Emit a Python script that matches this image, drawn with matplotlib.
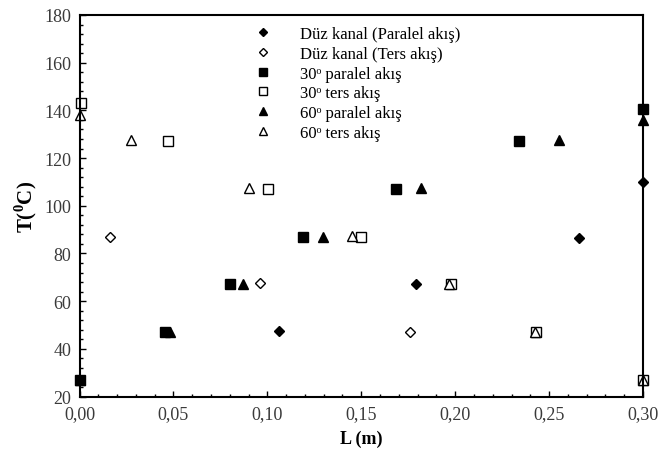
import matplotlib
matplotlib.use("Agg")
import matplotlib.pyplot as plt
from matplotlib.ticker import MultipleLocator, FuncFormatter

plt.rcParams['font.family'] = ['Liberation Serif', 'DejaVu Serif']
plt.rcParams['mathtext.fontset'] = 'custom'
plt.rcParams['mathtext.rm'] = 'Liberation Serif'
plt.rcParams['mathtext.bf'] = 'Liberation Serif:bold'

# Data
duz_par_x = [0.0, 0.106, 0.179, 0.266, 0.300]
duz_par_y = [27, 47.5, 67, 86.5, 110]
duz_ters_x = [0.016, 0.096, 0.176, 0.300]
duz_ters_y = [87, 67.5, 47, 27]
p30_par_x = [0.0, 0.0455, 0.080, 0.119, 0.1685, 0.234, 0.300]
p30_par_y = [27, 47, 67, 87, 107, 127, 140.5]
p30_ters_x = [0.0006, 0.047, 0.1005, 0.150, 0.198, 0.243, 0.300]
p30_ters_y = [143, 127, 107, 87, 67, 47, 27]
p60_par_x = [0.0, 0.048, 0.087, 0.1295, 0.182, 0.2555, 0.300]
p60_par_y = [27, 47, 67, 87, 107.5, 127.5, 136]
p60_ters_x = [0.0003, 0.0274, 0.090, 0.145, 0.1965, 0.2425, 0.300]
p60_ters_y = [138, 127.5, 107.5, 87.5, 67, 47, 27]

labels = ["Düz kanal (Paralel akış)", "Düz kanal (Ters akış)",
          "30ᵒ paralel akış", "30ᵒ ters akış",
          "60ᵒ paralel akış", "60ᵒ ters akış"]

fig = plt.figure(figsize=(6.6, 4.56), dpi=100)
ax = fig.add_axes([79.5/660, (456-397.5)/456, 563.5/660, 381.5/456])

kw = dict(linestyle='none', clip_on=False, markeredgecolor='black', markeredgewidth=1.0)
h1, = ax.plot(duz_par_x, duz_par_y, marker='D', markersize=5.5, markerfacecolor='black', label=labels[0], **kw)
h2, = ax.plot(duz_ters_x, duz_ters_y, marker='D', markersize=5.5, markerfacecolor='white', label=labels[1], **kw)
h3, = ax.plot(p30_par_x, p30_par_y, marker='s', markersize=7, markerfacecolor='black', label=labels[2], **kw)
h4, = ax.plot(p30_ters_x, p30_ters_y, marker='s', markersize=7, markerfacecolor='white', label=labels[3], **kw)
h5, = ax.plot(p60_par_x, p60_par_y, marker='^', markersize=7.5, markerfacecolor='black', label=labels[4], **kw)
h6, = ax.plot(p60_ters_x, p60_ters_y, marker='^', markersize=7.5, markerfacecolor='white', label=labels[5], **kw)

ax.set_xlim(0, 0.30)
ax.set_ylim(20, 180)
ax.xaxis.set_major_locator(MultipleLocator(0.05))
ax.xaxis.set_minor_locator(MultipleLocator(0.01))
ax.yaxis.set_major_locator(MultipleLocator(20))
ax.yaxis.set_minor_locator(MultipleLocator(4))
ax.xaxis.set_major_formatter(FuncFormatter(lambda v, p: f"{v:.2f}".replace('.', ',')))
ax.tick_params(which='both', direction='in', top=False, right=False, colors='black',
               labelcolor='#3a3a3a', labelsize=13, width=1.0)
ax.tick_params(which='major', length=4, pad=6)
ax.tick_params(which='minor', length=2.5)
for s in ax.spines.values():
    s.set_linewidth(1.5)

ax.set_xlabel("L (m)", fontsize=13, fontweight='bold', labelpad=6)
ax.set_ylabel("T($^{\\mathbf{0}}$C)", fontsize=15, fontweight='bold', labelpad=4)

leg = ax.legend(handles=[h1, h2, h3, h4, h5, h6], loc='upper left',
                bbox_to_anchor=(0.285, 0.988), frameon=False, fontsize=12,
                labelspacing=0.22, handletextpad=1.2, borderaxespad=0, markerscale=0.8)

fig.savefig("out.png", dpi=100)
